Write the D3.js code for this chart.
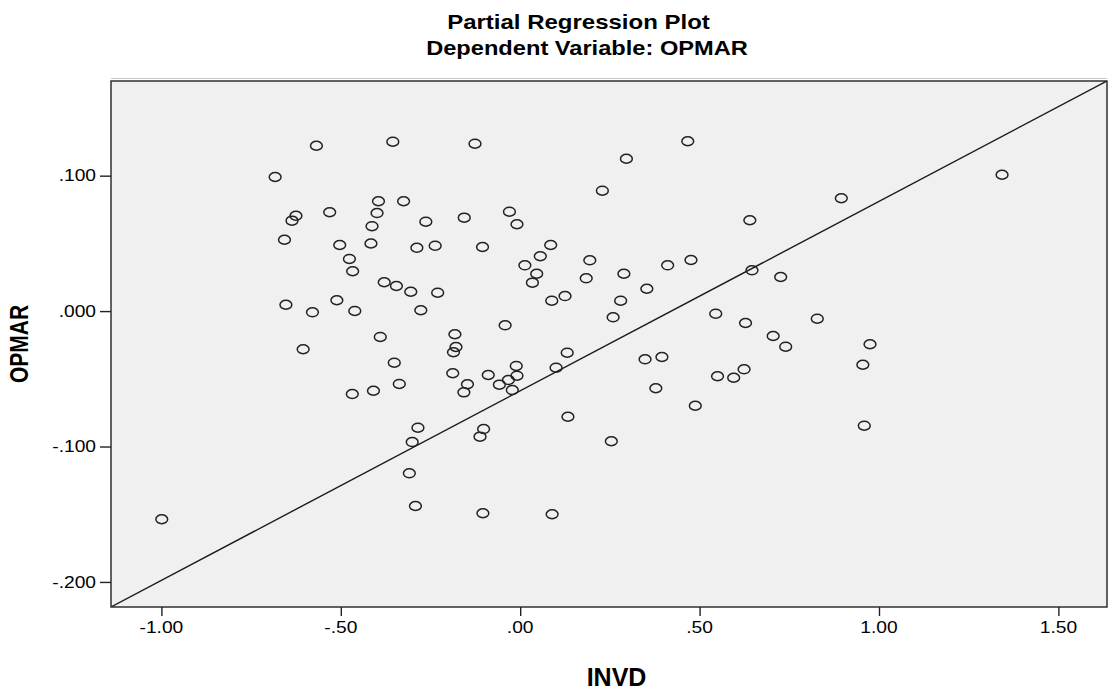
<!DOCTYPE html>
<html>
<head>
<meta charset="utf-8">
<script src="https://cdn.jsdelivr.net/npm/d3@7"></script>
<style>
  html, body { margin: 0; padding: 0; background: #ffffff; }
  svg { display: block; }
  text { font-family: "Liberation Sans", Arial, sans-serif; fill: #000; }
</style>
</head>
<body>
<svg id="chart" width="1113" height="696"></svg>
<script>
// ---- data ----
const invd = [
  -0.568, -0.683, -0.625, -0.636, -0.531, -0.395, -0.399, -0.413, -0.657, -0.503,
  -0.416, -0.476, -0.467, -0.379, -0.653, -0.579, -0.511, -0.461, -0.390, -0.605,
  -0.468, -0.409, -0.999, -0.355, -0.126,  0.467,  0.296,  0.229, -0.325, -0.263,
  -0.156, -0.030, -0.009, -0.288, -0.237, -0.105,  0.085,  0.056,  0.013,  0.046,
   0.034,  0.194,  0.184,  0.289,  0.411,  0.476,  0.353,  0.280,  0.259,  0.545,
   0.628,  0.640,  0.646, -0.345, -0.305, -0.230, -0.277,  0.088,  0.125, -0.042,
  -0.182, -0.179, -0.186, -0.351, -0.337, -0.188, -0.147, -0.157, -0.089, -0.011,
  -0.009, -0.033, -0.058, -0.022,  0.100,  0.131,  0.348,  0.395,  0.378,  0.488,
   0.550,  0.595,  0.624,  0.133,  0.254, -0.285, -0.301, -0.102, -0.112, -0.309,
  -0.292, -0.104,  0.089,  1.343,  0.895,  0.726,  0.828,  0.705,  0.740,  0.975,
   0.955,  0.959
];
const opmar = [
   0.1221,  0.0990,  0.0704,  0.0668,  0.0730,  0.0811,  0.0724,  0.0627,  0.0527,  0.0488,
   0.0499,  0.0385,  0.0294,  0.0213,  0.0047, -0.0009,  0.0080,  0.0001, -0.0191, -0.0282,
  -0.0612, -0.0588, -0.1537,  0.1251,  0.1236,  0.1254,  0.1125,  0.0889,  0.0811,  0.0660,
   0.0690,  0.0734,  0.0641,  0.0468,  0.0483,  0.0473,  0.0488,  0.0405,  0.0338,  0.0276,
   0.0210,  0.0375,  0.0242,  0.0276,  0.0338,  0.0377,  0.0165,  0.0077, -0.0046, -0.0019,
  -0.0088,  0.0671,  0.0301,  0.0185,  0.0143,  0.0136,  0.0006,  0.0077,  0.0111, -0.0105,
  -0.0171, -0.0265, -0.0304, -0.0381, -0.0538, -0.0459, -0.0540, -0.0600, -0.0472, -0.0405,
  -0.0477, -0.0509, -0.0543, -0.0583, -0.0418, -0.0307, -0.0356, -0.0339, -0.0570, -0.0699,
  -0.0481, -0.0492, -0.0430, -0.0780, -0.0961, -0.0861, -0.0967, -0.0871, -0.0927, -0.1198,
  -0.1439, -0.1493, -0.1500,  0.1007,  0.0833,  0.0252, -0.0056, -0.0184, -0.0263, -0.0245,
  -0.0396, -0.0846
];
const xTicks = [-1.0, -0.5, 0.0, 0.5, 1.0, 1.5];
const yTicks = [-0.2, -0.1, 0.0, 0.1];
const xDomain = [-1.1405, 1.6355];
const yDomain = [-0.2185, 0.1699];
const fitIntercept = -0.0589;
const fitSlope = 0.1399;
const titleText = "Partial Regression Plot";
const subtitleText = "Dependent Variable: OPMAR";
const xLabel = "INVD";
const yLabel = "OPMAR";

// ---- layout ----
const plot = { left: 111, right: 1107, top: 81, bottom: 607 };
const SX = 1.2; // horizontal stretch of text in the reference

const svg = d3.select("#chart");
const x = d3.scaleLinear().domain(xDomain).range([plot.left, plot.right]);
const y = d3.scaleLinear().domain(yDomain).range([plot.bottom, plot.top]);

const loc = d3.formatLocale({ decimal: ".", thousands: ",", grouping: [3], currency: ["", ""], minus: "-" });
const stripZero = s => s.replace(/^(-?)0\./, "$1.");
const fmtX = d => stripZero(loc.format(".2f")(d));
const fmtY = d => stripZero(loc.format(".3f")(d));

function label(g, px, py, str, size, weight, anchor, sx, rot) {
  return g.append("text")
    .attr("transform", `translate(${px},${py}) scale(${sx},1)` + (rot ? ` rotate(${rot})` : ""))
    .attr("text-anchor", anchor)
    .style("font-size", size + "px")
    .style("font-weight", weight)
    .text(str);
}

// titles
label(svg, 578.5, 29.3, titleText, 20, "bold", "middle", SX);
label(svg, 587, 55, subtitleText, 19.7, "bold", "middle", SX);

// faint line above the plot frame
svg.append("line")
  .attr("x1", plot.left).attr("x2", plot.right)
  .attr("y1", plot.top - 2.5).attr("y2", plot.top - 2.5)
  .attr("stroke", "#c8c8c8").attr("stroke-width", 1);

// plot background
svg.append("rect")
  .attr("x", plot.left).attr("y", plot.top)
  .attr("width", plot.right - plot.left).attr("height", plot.bottom - plot.top)
  .attr("fill", "#f0f0f0");

// clip for marks
svg.append("clipPath").attr("id", "clip")
  .append("rect")
  .attr("x", plot.left).attr("y", plot.top)
  .attr("width", plot.right - plot.left).attr("height", plot.bottom - plot.top);

const marks = svg.append("g").attr("clip-path", "url(#clip)");

// fit line
marks.append("line")
  .attr("x1", x(xDomain[0])).attr("y1", y(fitIntercept + fitSlope * xDomain[0]))
  .attr("x2", x(xDomain[1])).attr("y2", y(fitIntercept + fitSlope * xDomain[1]))
  .attr("stroke", "#1a1a1a").attr("stroke-width", 1.4);

// points
const pts = invd.map((v, i) => ({ x: v, y: opmar[i] }));
marks.selectAll("ellipse.pt").data(pts).enter().append("ellipse")
  .attr("class", "pt")
  .attr("cx", d => x(d.x)).attr("cy", d => y(d.y))
  .attr("rx", 5.9).attr("ry", 4.5)
  .attr("fill", "none").attr("stroke", "#222").attr("stroke-width", 1.5);

// frame
svg.append("rect")
  .attr("x", plot.left).attr("y", plot.top)
  .attr("width", plot.right - plot.left).attr("height", plot.bottom - plot.top)
  .attr("fill", "none").attr("stroke", "#222").attr("stroke-width", 1.4);

// x axis
const xAxis = d3.axisBottom(x).tickValues(xTicks).tickSize(9).tickFormat("");
const gx = svg.append("g").attr("transform", `translate(0,${plot.bottom})`).call(xAxis);
gx.select(".domain").remove();
gx.selectAll(".tick line").attr("stroke", "#222").attr("stroke-width", 1.4);
xTicks.forEach(t => label(svg, x(t), 633.3, fmtX(t), 16, "normal", "middle", SX));

// y axis
const yAxis = d3.axisLeft(y).tickValues(yTicks).tickSize(11).tickFormat("");
const gy = svg.append("g").attr("transform", `translate(${plot.left},0)`).call(yAxis);
gy.select(".domain").remove();
gy.selectAll(".tick line").attr("stroke", "#222").attr("stroke-width", 1.4);
yTicks.forEach(t => label(svg, 96, y(t) + 5.8, fmtY(t), 16, "normal", "end", SX));

// axis titles
label(svg, 616.5, 686, xLabel, 25, "bold", "middle", 1.0);
label(svg, 28, 344, yLabel, 21, "bold", "middle", SX, -90);
</script>
</body>
</html>
